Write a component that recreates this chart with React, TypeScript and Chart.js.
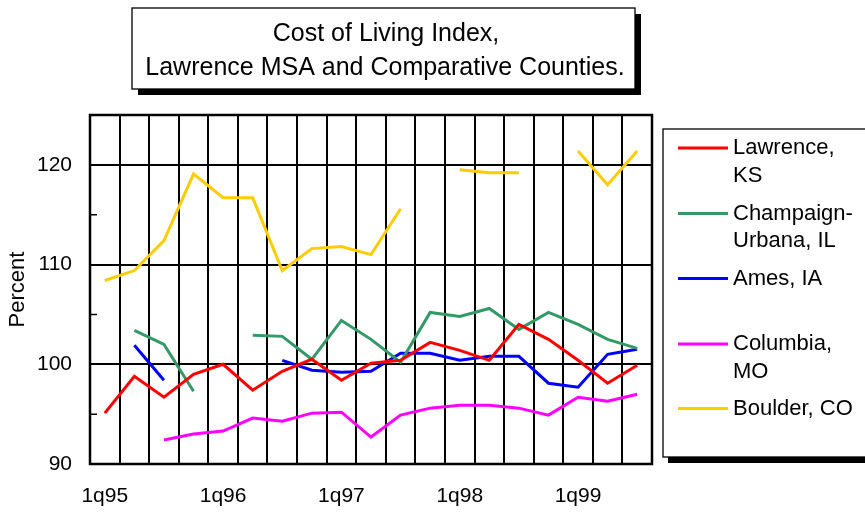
import { useEffect, useRef } from "react";
import { Chart, registerables } from "chart.js";

Chart.register(...registerables);

const quarters = [
  "1q95", "2q95", "3q95", "4q95",
  "1q96", "2q96", "3q96", "4q96",
  "1q97", "2q97", "3q97", "4q97",
  "1q98", "2q98", "3q98", "4q98",
  "1q99", "2q99", "3q99",
];
const xTickLabels = ["1q95", "1q96", "1q97", "1q98", "1q99"];
const yTickLabels = [90, 100, 110, 120];

const lawrence = [95.1, 98.8, 96.7, 99.0, 100.0, 97.4, 99.3, 100.5, 98.4, 100.1, 100.4, 102.2, 101.4, 100.4, 104.0, 102.5, 100.4, 98.1, 99.9];
const champaign = [null, 103.4, 102.0, 97.3, null, 102.9, 102.8, 100.5, 104.4, 102.5, 100.2, 105.2, 104.8, 105.6, 103.5, 105.2, 104.0, 102.5, 101.6];
const ames = [null, 101.9, 98.4, null, null, null, 100.4, 99.4, 99.2, 99.3, 101.1, 101.1, 100.4, 100.8, 100.8, 98.1, 97.7, 101.0, 101.5];
const columbia = [null, null, 92.4, 93.0, 93.3, 94.6, 94.3, 95.1, 95.2, 92.7, 94.9, 95.6, 95.9, 95.9, 95.6, 94.9, 96.7, 96.3, 97.0];
const boulder = [108.4, 109.4, 112.4, 119.1, 116.7, 116.7, 109.4, 111.6, 111.8, 111.0, 115.6, null, 119.5, 119.2, 119.2, null, 121.4, 118.0, 121.4];

const seriesNames = ["Lawrence, KS", "Champaign-Urbana, IL", "Ames, IA", "Columbia, MO", "Boulder, CO"];
const legendLines = [["Lawrence,", "KS"], ["Champaign-", "Urbana, IL"], ["Ames, IA"], ["Columbia,", "MO"], ["Boulder, CO"]];
const seriesColors = ["#FF0000", "#339966", "#0000FF", "#FF00FF", "#FFCC00"];
const titleLines = ["Cost of Living Index,", "Lawrence MSA and Comparative Counties."];
const yTitle = "Percent";

const FONT = '"Liberation Sans", Arial, Helvetica, sans-serif';

const decorPlugin = {
  id: "decor",
  beforeDraw(chart: any) {
    const ctx = chart.ctx;
    ctx.save();
    ctx.fillStyle = "#fff";
    ctx.fillRect(0, 0, chart.width, chart.height);
    // title box
    ctx.fillStyle = "#000";
    ctx.fillRect(138, 14, 503, 81);
    ctx.fillStyle = "#fff";
    ctx.fillRect(132, 8, 503, 81);
    ctx.strokeStyle = "#000";
    ctx.lineWidth = 1.3;
    ctx.strokeRect(132, 8, 503, 81);
    ctx.fillStyle = "#000";
    ctx.font = "25px " + FONT;
    ctx.textAlign = "center";
    ctx.textBaseline = "alphabetic";
    ctx.fillText(titleLines[0], 386, 41);
    ctx.fillText(titleLines[1], 385, 75);
    ctx.restore();
  },
  afterDatasetsDraw(chart: any) {
    const ctx = chart.ctx;
    const a = chart.chartArea;
    const y = chart.scales.y;
    ctx.save();
    ctx.strokeStyle = "#000";
    ctx.lineWidth = 1.5;
    ctx.beginPath();
    for (let v = 95; v < 125; v += 10) {
      const py = y.getPixelForValue(v);
      ctx.moveTo(a.left, py);
      ctx.lineTo(a.left + 7, py);
    }
    ctx.stroke();
    ctx.lineWidth = 2.5;
    ctx.strokeRect(a.left, a.top, a.right - a.left, a.bottom - a.top);
    ctx.restore();
  },
  afterDraw(chart: any) {
    const ctx = chart.ctx;
    ctx.save();
    ctx.fillStyle = "#000";
    ctx.fillRect(668, 134, 220, 329);
    ctx.fillStyle = "#fff";
    ctx.fillRect(663, 129, 220, 328);
    ctx.strokeStyle = "#000";
    ctx.lineWidth = 1.3;
    ctx.strokeRect(663, 129, 220, 328);
    ctx.font = "22px " + FONT;
    ctx.textAlign = "left";
    ctx.textBaseline = "alphabetic";
    const bases = [154, 219.5, 284.5, 350, 414.5];
    chart.data.datasets.forEach((ds: any, i: number) => {
      const base = bases[i];
      ctx.strokeStyle = ds.borderColor;
      ctx.lineWidth = 3;
      ctx.beginPath();
      ctx.moveTo(678, base - 6);
      ctx.lineTo(728, base - 6);
      ctx.stroke();
      ctx.fillStyle = "#000";
      legendLines[i].forEach((t, j) => ctx.fillText(t, 733, base + j * 27.5));
    });
    ctx.restore();
  },
};

export default function App() {
  const ref = useRef<HTMLCanvasElement>(null);
  useEffect(() => {
    document.body.style.margin = "0";
    const series = [lawrence, champaign, ames, columbia, boulder];
    const chart = new Chart(ref.current!, {
      type: "line",
      data: {
        labels: quarters,
        datasets: series.map((d, i) => ({
          label: seriesNames[i],
          data: d,
          borderColor: seriesColors[i],
          backgroundColor: seriesColors[i],
          borderWidth: 3,
          pointRadius: 0,
          tension: 0,
          spanGaps: false,
          fill: false,
        })),
      },
      options: {
        responsive: false,
        animation: false,
        events: [],
        layout: { padding: { top: 115, right: 213, bottom: 0, left: 0 } },
        plugins: { legend: { display: false }, title: { display: false }, tooltip: { enabled: false } },
        scales: {
          x: {
            type: "category",
            offset: true,
            grid: { offset: true, color: "#000", lineWidth: 2, drawTicks: false },
            border: { display: false },
            ticks: {
              autoSkip: false,
              maxRotation: 0,
              padding: 20,
              color: "#000",
              font: { family: FONT, size: 21 },
              callback: (_v: any, i: number) => (xTickLabels.includes(quarters[i]) ? quarters[i] : ""),
            },
            afterFit: (s: any) => { s.height = 48; },
          },
          y: {
            min: 90,
            max: 125,
            grid: {
              drawTicks: false,
              lineWidth: 2,
              color: (c: any) => (c.tick && yTickLabels.includes(c.tick.value) ? "#000" : "rgba(0,0,0,0)"),
            },
            border: { display: false },
            ticks: {
              stepSize: 5,
              padding: 18,
              color: "#000",
              font: { family: FONT, size: 21 },
              callback: (v: any) => (yTickLabels.includes(Number(v)) ? String(v) : ""),
            },
            title: {
              display: true,
              text: yTitle,
              color: "#000",
              font: { family: FONT, size: 22 },
              padding: { top: 5, bottom: 0 },
            },
            afterFit: (s: any) => { s.width = 90; },
          },
        },
      },
      plugins: [decorPlugin],
    });
    return () => chart.destroy();
  }, []);
  return (
    <div style={{ position: "absolute", left: 0, top: 0, width: 865, height: 512 }}>
      <canvas ref={ref} width={865} height={512} />
    </div>
  );
}
